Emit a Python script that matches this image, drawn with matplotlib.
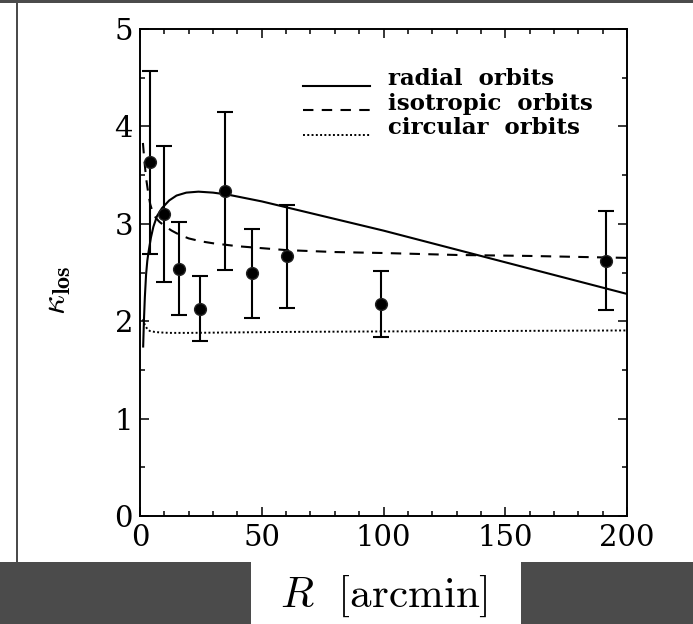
import matplotlib
matplotlib.use("Agg")
import matplotlib.pyplot as plt
from matplotlib.patches import Rectangle
from matplotlib.ticker import MultipleLocator
from matplotlib.legend_handler import HandlerLine2D

plt.rcParams['mathtext.fontset'] = 'cm'
plt.rcParams['font.family'] = ['DejaVu Serif']

# data points: projected radius [arcmin], kurtosis, symmetric error
R_obs = [4.2, 10.0, 16.0, 24.7, 35.1, 46.0, 60.3, 99.0, 191.5]
k_obs = [3.63, 3.10, 2.54, 2.13, 3.34, 2.49, 2.665, 2.18, 2.62]
k_err = [0.94, 0.70, 0.48, 0.33, 0.81, 0.46, 0.53, 0.34, 0.51]

# model curves
R_rad = [1.3, 1.6, 2.0, 2.5, 3.0, 3.5, 4.5, 5.5, 7, 9, 12, 15, 19, 24, 30, 36, 42,
         50, 60, 80, 100, 120, 140, 160, 180, 200]
k_rad = [1.74, 2.0, 2.25, 2.48, 2.62, 2.71, 2.86, 2.97, 3.08, 3.16, 3.24, 3.29, 3.32,
         3.33, 3.32, 3.30, 3.27, 3.23, 3.17, 3.05, 2.93, 2.80, 2.67, 2.54, 2.41, 2.28]

R_iso = [1.2, 1.8, 2.5, 3.3, 4.2, 5.2, 6.5, 8, 10, 13, 16, 20, 25, 30, 40, 50, 60,
         80, 100, 130, 160, 200]
k_iso = [3.83, 3.65, 3.47, 3.33, 3.20, 3.12, 3.06, 3.02, 2.98, 2.93, 2.89, 2.85, 2.82,
         2.80, 2.77, 2.75, 2.73, 2.71, 2.70, 2.68, 2.67, 2.65]

R_circ = [1.2, 2, 3, 4, 6, 8, 12, 20, 40, 60, 100, 150, 200]
k_circ = [2.02, 1.96, 1.92, 1.90, 1.89, 1.885, 1.88, 1.88, 1.885, 1.89, 1.895, 1.90, 1.905]

labels = ['radial  orbits', 'isotropic  orbits', 'circular  orbits']
xticks = [0, 50, 100, 150, 200]
yticks = [0, 1, 2, 3, 4, 5]


class BaselineHandler(HandlerLine2D):
    """Legend sample drawn at the text baseline instead of its middle."""
    def create_artists(self, legend, orig_handle, xdescent, ydescent, width, height,
                       fontsize, trans):
        return super().create_artists(legend, orig_handle, xdescent,
                                      ydescent + 0.75 * fontsize, width, height,
                                      fontsize, trans)


W, H = 693, 624
fig = plt.figure(figsize=(W / 100, H / 100), dpi=100)
fig.patch.set_facecolor('white')

dark = '#4b4b4b'
# decorative frame bands
fig.patches.append(Rectangle((0, 1 - 3 / H), 1, 3 / H, transform=fig.transFigure,
                             facecolor=dark, edgecolor='none', zorder=0))
fig.patches.append(Rectangle((16 / W, 62 / H), 2 / W, 1, transform=fig.transFigure,
                             facecolor=dark, edgecolor='none', zorder=0))
fig.patches.append(Rectangle((0, 0), 251 / W, 62 / H, transform=fig.transFigure,
                             facecolor=dark, edgecolor='none', zorder=0))
fig.patches.append(Rectangle((521 / W, 0), 1 - 521 / W, 62 / H, transform=fig.transFigure,
                             facecolor=dark, edgecolor='none', zorder=0))

ax = fig.add_axes([140 / W, 1 - 516 / H, 487 / W, 487 / H])

l1, = ax.plot(R_rad, k_rad, color='black', lw=1.5, ls='-')
l2, = ax.plot(R_iso, k_iso, color='black', lw=1.5, ls=(0, (5, 4)))
l3, = ax.plot(R_circ, k_circ, color='black', lw=1.4, ls=(0, (1, 1.2)))

ax.errorbar(R_obs, k_obs, yerr=k_err, fmt='o', color='black', ms=8.5, mfc='black',
            mec='#222222', elinewidth=1.5, capsize=6, capthick=1.5, zorder=3)

ax.set_xlim(0, 200)
ax.set_ylim(0, 5)
ax.set_xticks(xticks)
ax.set_yticks(yticks)
ax.xaxis.set_minor_locator(MultipleLocator(10))
ax.yaxis.set_minor_locator(MultipleLocator(0.5))
ax.tick_params(which='both', direction='in', top=True, right=True, width=1.1,
               labelsize=21, colors='black')
ax.tick_params(which='major', length=6.5)
ax.tick_params(which='minor', length=3.8)
ax.tick_params(axis='x', pad=6)
ax.tick_params(axis='y', pad=5)
for s in ax.spines.values():
    s.set_linewidth(1.4)

ax.set_xlabel(r'$R\ \ [\mathrm{arcmin}]$', fontsize=31, labelpad=15)
ax.set_ylabel(r'$\kappa_{\mathbf{los}}$', fontsize=25)
ax.yaxis.set_label_coords(-0.138, 0.464)

h = BaselineHandler()
leg = ax.legend([l1, l2, l3], labels, loc='upper left', bbox_to_anchor=(0.335, 0.92),
                frameon=False, prop={'size': 16.5, 'weight': 'bold'},
                handlelength=2.9, handletextpad=0.8,
                labelspacing=0.12, borderpad=0, borderaxespad=0,
                handler_map={l1: h, l2: h, l3: h})

fig.savefig('out.png', dpi=100)
